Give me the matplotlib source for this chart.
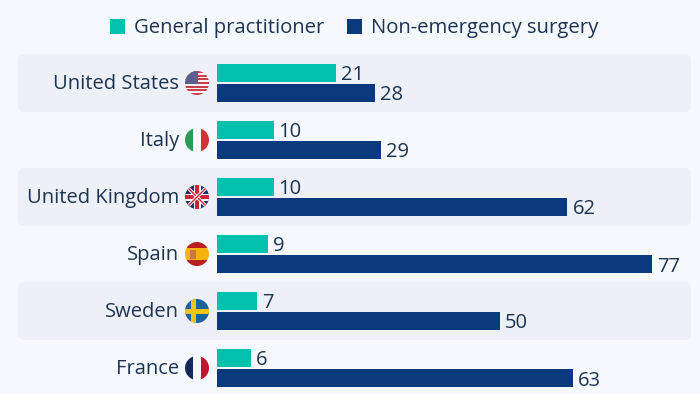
import matplotlib
matplotlib.use('Agg')
import matplotlib.pyplot as plt
from matplotlib.patches import Circle, FancyBboxPatch, Rectangle

countries = ['United States', 'Italy', 'United Kingdom', 'Spain', 'Sweden', 'France']
gp_values = [21, 10, 10, 9, 7, 6]
surgery_values = [28, 29, 62, 77, 50, 63]
series_names = ['General practitioner', 'Non-emergency surgery']

TEAL = '#00c1ad'
NAVY = '#0a3a7d'
TEXT = '#1d3352'
BG = '#f5f8fd'
BAND = '#edf1f7'
FS = 14.5

plt.rcParams['font.family'] = ['Open Sans', 'DejaVu Sans']

fig = plt.figure(figsize=(7, 3.94), dpi=100, facecolor=BG)

# overlay in pixel coords, for bands, legend and flags
px = fig.add_axes([0, 0, 1, 1])
px.set_xlim(0, 700)
px.set_ylim(394, 0)
px.axis('off')

# bar axes: x is the value, y is the row number
ax = fig.add_axes([217 / 700, 0, 483 / 700, 1])
ax.patch.set_alpha(0)
ax.set_xlim(0, 483 / 5.65)
ax.set_ylim((394 - 83) / 57, -83 / 57)
ax.axis('off')

bar_h = 17.5 / 57
for i, c in enumerate(countries):
    yc = 83 + 57 * i
    if i % 2 == 0:
        px.add_patch(FancyBboxPatch((18, yc - 29), 673, 58,
                                    boxstyle='round,pad=0,rounding_size=7', fc=BAND, ec='none'))
    px.text(179, yc + 1, c, ha='right', va='center', fontsize=FS, color=TEXT)
    ax.barh(i - 10 / 57, gp_values[i], height=bar_h, color=TEAL)
    ax.barh(i + 10 / 57, surgery_values[i], height=bar_h, color=NAVY)
    ax.text(gp_values[i] + 0.9, i - 7.5 / 57, str(gp_values[i]), va='center', fontsize=FS, color=TEXT)
    ax.text(surgery_values[i] + 0.9, i + 12.5 / 57, str(surgery_values[i]), va='center', fontsize=FS, color=TEXT)


def flag_clip(yc):
    return Circle((197, yc), 12, transform=px.transData)


def stripes(yc, parts, vertical=True):
    # parts: (colour, share) from left to right or top to bottom
    clip = flag_clip(yc)
    pos = 0
    for col, share in parts:
        if vertical:
            r = Rectangle((185 + pos * 24, yc - 12), share * 24, 24, fc=col, ec='none')
        else:
            r = Rectangle((185, yc - 12 + pos * 24), 24, share * 24, fc=col, ec='none')
        px.add_patch(r)
        r.set_clip_path(clip)
        pos += share


def clipped(yc, patch):
    px.add_patch(patch)
    patch.set_clip_path(flag_clip(yc))


# United States
yc = 83
stripes(yc, [('#c9404b' if k % 2 == 0 else '#f5f3f3', 1 / 13) for k in range(13)], vertical=False)
clipped(yc, Rectangle((185, yc - 12), 12.5, 12.5, fc='#5c6088', ec='none'))
# Italy
stripes(140, [('#2e9a58', 1 / 3), ('#f8f8f8', 1 / 3), ('#cf3339', 1 / 3)])
# United Kingdom
yc = 197
stripes(yc, [('#1c3068', 1)])
for a, b in [((185, yc - 12), (209, yc + 12)), ((185, yc + 12), (209, yc - 12))]:
    l1, = px.plot([a[0], b[0]], [a[1], b[1]], color='white', lw=2.4, solid_capstyle='butt')
    l1.set_clip_path(flag_clip(yc))
    l2, = px.plot([a[0], b[0]], [a[1], b[1]], color='#cf2238', lw=1.0, solid_capstyle='butt')
    l2.set_clip_path(flag_clip(yc))
clipped(yc, Rectangle((185, yc - 3.5), 24, 7, fc='white', ec='none'))
clipped(yc, Rectangle((193.5, yc - 12), 7, 24, fc='white', ec='none'))
clipped(yc, Rectangle((185, yc - 2), 24, 4, fc='#cf2238', ec='none'))
clipped(yc, Rectangle((195, yc - 12), 4, 24, fc='#cf2238', ec='none'))
# Spain
yc = 254
stripes(yc, [('#b8211d', 0.25), ('#f4b30f', 0.5), ('#b8211d', 0.25)], vertical=False)
clipped(yc, Rectangle((189.5, yc - 4.5), 6.5, 9, fc='#c9793f', ec='none'))
# Sweden
yc = 311
stripes(yc, [('#1c639f', 1)])
clipped(yc, Rectangle((185, yc - 2.5), 24, 5, fc='#f2c512', ec='none'))
clipped(yc, Rectangle((191, yc - 12), 5, 24, fc='#f2c512', ec='none'))
# France
stripes(368, [('#12295c', 1 / 3), ('#f8f8f8', 1 / 3), ('#c8102e', 1 / 3)])

# legend
px.add_patch(Rectangle((110, 19), 15, 15, fc=TEAL, ec='none'))
px.text(134, 28, series_names[0], va='center', fontsize=14.6, color=TEXT)
px.add_patch(Rectangle((347, 19), 15, 15, fc=NAVY, ec='none'))
px.text(371, 28, series_names[1], va='center', fontsize=14.6, color=TEXT)

fig.savefig('out.png', dpi=100, facecolor=BG)
